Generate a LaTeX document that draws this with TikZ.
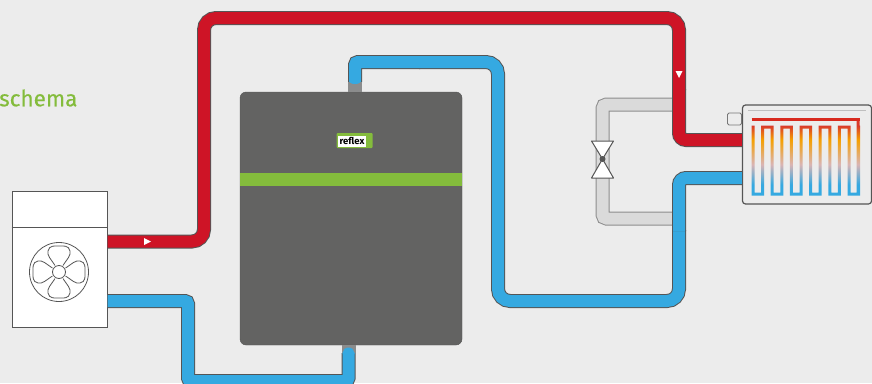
\documentclass[tikz,border=0pt]{standalone}
\usepackage{fontspec}
\setmainfont{Fira Sans}
\definecolor{bgrey}{HTML}{ECECEC}
\definecolor{hotred}{HTML}{CE1426}
\definecolor{coldblue}{HTML}{35A9E1}
\definecolor{tankgrey}{HTML}{636362}
\definecolor{linegrey}{HTML}{555555}
\definecolor{refgreen}{HTML}{84BC3C}
\definecolor{bypassgrey}{HTML}{DADADA}
\definecolor{stubgrey}{HTML}{8B8C8C}
\definecolor{coilred}{HTML}{D93A2B}
\definecolor{coilorange}{HTML}{F5A000}
\definecolor{coilpink}{HTML}{D9B4B4}
\pgfdeclareverticalshading{coilshade}{100bp}{color(0bp)=(coldblue); color(25bp)=(coldblue); color(32bp)=(coldblue); color(45bp)=(coilpink); color(61bp)=(coilorange); color(70bp)=(coilred); color(75bp)=(coilred); color(100bp)=(coilred)}
\tikzset{
    box/.style={draw=linegrey, line width=1pt, fill=white, inner sep=0pt},
    pipe/.style={double distance=12pt, line width=1pt, draw=linegrey},
    hotpipe/.style={pipe, double=hotred},
    coldpipe/.style={pipe, double=coldblue},
    bypass/.style={pipe, draw=gray!90, double=bypassgrey},
    flow/.style={fill=white},
    blade/.style={draw=linegrey, line width=0.8pt}
}
\begin{document}
\begin{tikzpicture}[x=1pt, y=-1pt]
    \useasboundingbox (0,0) rectangle (872,383);
    \clip (0,0) rectangle (872,383);
    \fill[bgrey] (0,0) rectangle (872,383);
    % title
    \node[text=refgreen, anchor=west, inner sep=0pt, font=\fontsize{22.5}{24}\selectfont\addfontfeature{FakeBold=0.35}] (title) at (-1,98) {schema};
    % heat pump
    \node[box, minimum width=95pt, minimum height=136pt] (pump) at (59.5,259) {};
    \draw[draw=linegrey, line width=1pt] ([yshift=-37pt]pump.north west) -- ([yshift=-37pt]pump.north east);
    \node[circle, draw=linegrey, line width=0.8pt, minimum size=59pt, inner sep=0pt] (fan) at (59,272) {};
    \node[circle, draw=linegrey, line width=0.8pt, minimum size=13pt, inner sep=0pt] (hub) at (fan.center) {};
    \foreach \a in {0,90,180,270}
        \draw[blade, rotate around={\a:(fan.center)}] (55,265.5)
            .. controls (51,259) and (47,256) .. (48,251)
            .. controls (49,245) and (55,246) .. (59,246)
            .. controls (63,246) and (69,245) .. (70,251)
            .. controls (71,256) and (67,259) .. (63,265.5);
    % tank
    \node[draw=linegrey, fill=tankgrey, rounded corners=6pt, minimum width=222pt, minimum height=253pt, inner sep=0pt] (tank) at (351,218.5) {};
    \node[fill=refgreen, minimum width=222pt, minimum height=13pt, inner sep=0pt] (band) at (351,179.5) {};
    \node[fill=refgreen, rounded corners=1pt, minimum width=36pt, minimum height=15pt, inner sep=0pt] (logo) at (354.5,140.5) {};
    \node[fill=white, minimum width=28pt, minimum height=11pt, inner sep=0pt, font=\fontsize{9.5}{10}\selectfont\bfseries] (logotext) at (352,141) {reflex};
    % radiator
    \node[box, fill=bgrey, line width=1.2pt, rounded corners=3pt, minimum width=129pt, minimum height=99pt] (rad) at (807,154.5) {};
    \node[draw=linegrey!80, fill=bgrey, line width=0.8pt, rounded corners=1.5pt, minimum width=14pt, minimum height=12pt, inner sep=0pt, anchor=east] (valvehead) at ([yshift=35.5pt]rad.west) {};
    \draw[gray!50, line width=1.5pt] ([yshift=-6pt,xshift=6pt]rad.north west) -- ([yshift=-6pt,xshift=-6pt]rad.north east);
    \begin{scope}
        \path[clip] foreach \i in {0,...,5} {
            (753+\i*19.2-1.5,125.5) rectangle (753+\i*19.2+1.5,195.5)
            (762.6+\i*19.2-1.5,125.5) rectangle (762.6+\i*19.2+1.5,195.5)
            (753+\i*19.2-1.5,192.5) rectangle (762.6+\i*19.2+1.5,195.5)
        } foreach \i in {0,...,4} {
            (762.6+\i*19.2-1.5,125.5) rectangle (772.2+\i*19.2+1.5,128.5)
        } (856.5,118) rectangle (859.5,195.5);
        \shade[shading=coilshade] (750,118) rectangle (861,195.5);
    \end{scope}
    \draw[hotred!80!orange, line width=3pt] (751.5,119.5) -- (859.5,119.5);
    % pipes
    \draw[bypass, rounded corners=4pt] (672,104.5) -- (602.5,104.5) -- (602.5,218.5) -- (672,218.5);
    \draw[hotpipe, rounded corners=12pt] ([yshift=17.5pt]pump.east) -- (204,241.5) -- (204,18) -- (679,18) -- (679,90);
    \draw[hotpipe, rounded corners=7pt] (679,89) -- (679,140) -- ([yshift=14.5pt]rad.west);
    \draw[coldpipe, rounded corners=3pt] ([yshift=-42pt]pump.east) -- (188,301) -- (188,381) -- (348.5,381) -- (348.5,353);
    \draw[coldpipe, rounded corners=3pt] (355,82) -- (355,62) -- (420,62);
    \draw[coldpipe, rounded corners=12pt] (419,62) -- (498,62) -- (498,301) -- (679,301) -- (679,230);
    \draw[coldpipe, rounded corners=7pt] (679,231) -- (679,178) -- ([yshift=-23.5pt]rad.west);
    % connection stubs
    \fill[stubgrey] (348,82) rectangle (362,92);
    \fill[coldblue] (349,81) -- (361,81) arc[start angle=0, end angle=180, x radius=6pt, y radius=-3pt] -- cycle;
    \fill[stubgrey] (342,345) rectangle (356,353);
    \fill[coldblue] (342.5,354) -- (354.5,354) -- (354.5,353) arc[start angle=0, end angle=180, x radius=6pt, y radius=5.5pt] -- cycle;
    % flow marks
    \fill[flow] (144,238) -- (151,241.5) -- (144,245) -- cycle;
    \fill[flow] (675.5,71) -- (682.5,71) -- (679,78) -- cycle;
    % mixing valve
    \coordinate (mix) at (602.5,159);
    \draw[box, line join=round] (mix) -- (591.5,141) -- (613.5,141) -- cycle;
    \draw[box, line join=round] (mix) -- (591.5,178) -- (613.5,178) -- cycle;
    \fill[linegrey] (mix) circle[radius=3pt];
\end{tikzpicture}
\end{document}
